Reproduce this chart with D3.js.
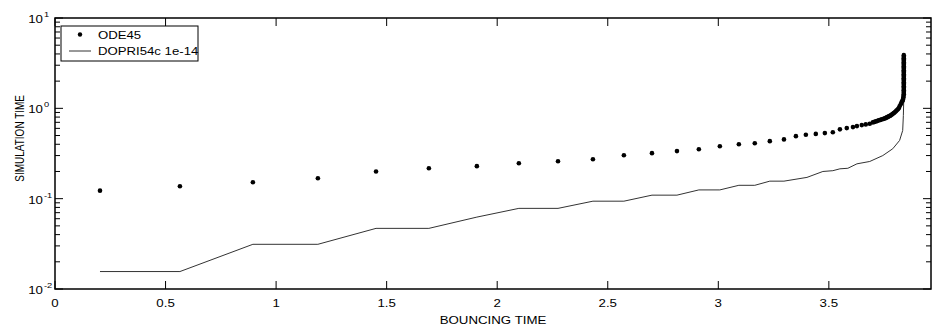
<!DOCTYPE html>
<html>
<head>
<meta charset="utf-8">
<script src="https://cdn.jsdelivr.net/npm/d3@7"></script>
<style>
  body { margin: 0; background: #fff; }
  text { font-family: Arial, "Liberation Sans", sans-serif; fill: #000; }
</style>
</head>
<body>
<svg id="chart" width="932" height="327"></svg>
<script>
// ODE45 results: bouncing time vs simulation time
const odeBounce = [0.2035, 0.565, 0.895, 1.189, 1.452, 1.691, 1.908, 2.098, 2.275, 2.433,
    2.573, 2.700, 2.813, 2.912, 3.007, 3.093, 3.165, 3.233, 3.297, 3.351,
    3.396, 3.441, 3.482, 3.518, 3.550, 3.581, 3.609, 3.627, 3.649, 3.667,
    3.685, 3.699, 3.706, 3.713, 3.720, 3.726, 3.733, 3.740, 3.747, 3.753,
    3.758, 3.762, 3.767, 3.771, 3.776, 3.780, 3.785, 3.789, 3.794, 3.798,
    3.803, 3.807, 3.812, 3.816, 3.820, 3.825, 3.829, 3.832, 3.834, 3.836,
    3.837, 3.838, 3.839, 3.839, 3.839, 3.839, 3.839, 3.839, 3.839, 3.839,
    3.839, 3.839, 3.839, 3.839, 3.839, 3.839, 3.839, 3.839, 3.839, 3.839,
    3.839, 3.839, 3.839, 3.839, 3.839, 3.839, 3.839, 3.839, 3.839, 3.839];
const odeSim = [0.1227, 0.137, 0.152, 0.168, 0.200, 0.217, 0.229, 0.247, 0.260, 0.273,
    0.303, 0.319, 0.336, 0.353, 0.381, 0.401, 0.411, 0.433, 0.453, 0.492,
    0.510, 0.521, 0.532, 0.544, 0.585, 0.604, 0.620, 0.636, 0.652, 0.664,
    0.676, 0.699, 0.708, 0.717, 0.727, 0.736, 0.745, 0.755, 0.764, 0.774,
    0.784, 0.794, 0.804, 0.815, 0.825, 0.836, 0.852, 0.869, 0.886, 0.903,
    0.926, 0.950, 0.975, 1.000, 1.052, 1.108, 1.166, 1.200, 1.227, 1.270,
    1.325, 1.380, 1.431, 1.480, 1.530, 1.585, 1.640, 1.700, 1.756, 1.820,
    1.880, 1.945, 2.020, 2.090, 2.154, 2.230, 2.310, 2.387, 2.470, 2.560,
    2.644, 2.740, 2.830, 2.929, 3.030, 3.140, 3.245, 3.360, 3.480, 3.594,
    3.720, 3.880];
odeBounce.push(3.839, 3.839);

// DOPRI54c 1e-14 results
const dopBounce = [0.2035, 0.565, 0.895, 1.189, 1.452, 1.691, 1.908, 2.098, 2.275, 2.433,
    2.573, 2.700, 2.813, 2.912, 3.007, 3.093, 3.165, 3.233, 3.297, 3.401,
    3.473, 3.518, 3.550, 3.586, 3.627, 3.685, 3.744, 3.789, 3.820, 3.834,
    3.837, 3.839];
const dopSim = [0.0156, 0.0156, 0.03125, 0.03125, 0.0469, 0.0469, 0.0625, 0.0781, 0.0781, 0.0938,
    0.0938, 0.1094, 0.1094, 0.125, 0.125, 0.1406, 0.1406, 0.1563, 0.1563, 0.172,
    0.200, 0.204, 0.214, 0.217, 0.243, 0.258, 0.300, 0.357, 0.441, 0.569,
    0.836, 1.325];

const xTicks = [0, 0.5, 1, 1.5, 2, 2.5, 3, 3.5];
const xTickLabels = ['0', '0.5', '1', '1.5', '2', '2.5', '3', '3.5'];
const yTicks = [0.01, 0.1, 1, 10];
const yExponents = ['-2', '-1', '0', '1'];
const legendNames = ['ODE45', 'DOPRI54c 1e-14'];

const svg = d3.select('#chart');
const margin = { top: 18, right: 1, bottom: 38, left: 55 };
const width = +svg.attr('width') - margin.left - margin.right;
const height = +svg.attr('height') - margin.top - margin.bottom;
const sx = 1.33; // text is stretched horizontally in the original

svg.append('rect').attr('width', 932).attr('height', 327).attr('fill', '#fff');
const g = svg.append('g').attr('transform', `translate(${margin.left},${margin.top})`);

const x = d3.scaleLinear().domain([0, 3.962]).range([0, width]);
const y = d3.scaleLog().domain([0.01, 10]).range([height, 0]);

// minor ticks for log axis
const minor = [];
[0.01, 0.1, 1].forEach(d => { for (let k = 2; k <= 9; k++) minor.push(d * k); });

// ticks (inward) on all four sides
const tickG = g.append('g').attr('stroke', '#000').attr('stroke-width', 1);
xTicks.forEach(t => {
    tickG.append('line').attr('x1', x(t)).attr('x2', x(t)).attr('y1', height).attr('y2', height - 8);
    tickG.append('line').attr('x1', x(t)).attr('x2', x(t)).attr('y1', 0).attr('y2', 8);
});
yTicks.concat(minor).forEach(t => {
    const len = yTicks.includes(t) ? 8 : 5;
    tickG.append('line').attr('x1', 0).attr('x2', len).attr('y1', y(t)).attr('y2', y(t));
    tickG.append('line').attr('x1', width).attr('x2', width - len).attr('y1', y(t)).attr('y2', y(t));
});

// data: DOPRI line
const line = d3.line()
    .x((d, i) => x(dopBounce[i]))
    .y(d => y(d));
g.append('path')
    .datum(dopSim)
    .attr('fill', 'none')
    .attr('stroke', '#333')
    .attr('stroke-width', 1)
    .attr('d', line);

// data: ODE45 dots
g.append('g').selectAll('circle')
    .data(odeSim)
    .join('circle')
    .attr('cx', (d, i) => x(odeBounce[i]))
    .attr('cy', d => y(d))
    .attr('r', 2.3)
    .attr('fill', '#000');

// axes box
g.append('rect')
    .attr('width', width).attr('height', height)
    .attr('fill', 'none').attr('stroke', '#000').attr('stroke-width', 1.5);

// x tick labels
xTicks.forEach((t, i) => {
    g.append('text')
        .attr('transform', `translate(${x(t)},${height + 18}) scale(${sx},1)`)
        .attr('text-anchor', 'middle')
        .attr('font-size', 10)
        .text(xTickLabels[i]);
});

// y tick labels 10^k
yTicks.forEach((t, i) => {
    g.append('text')
        .attr('transform', `translate(-12,${y(t) + 5}) scale(${sx},1)`)
        .attr('text-anchor', 'end')
        .attr('font-size', 10)
        .text('10');
    g.append('text')
        .attr('transform', `translate(-11,${y(t) - 1}) scale(${sx},1)`)
        .attr('font-size', 7)
        .text(yExponents[i]);
});

// axis titles
g.append('text')
    .attr('transform', `translate(${width / 2},${height + 35}) scale(${sx},1)`)
    .attr('text-anchor', 'middle')
    .attr('font-size', 10)
    .text('BOUNCING TIME');
g.append('text')
    .attr('transform', `translate(-31,${y(1) + 30}) scale(${sx},1) rotate(-90)`)
    .attr('text-anchor', 'middle')
    .attr('font-size', 10)
    .text('SIMULATION TIME');

// legend
const lg = svg.append('g').attr('transform', 'translate(61,26)');
lg.append('rect').attr('width', 137).attr('height', 35)
    .attr('fill', '#fff').attr('stroke', '#000').attr('stroke-width', 1);
lg.append('circle').attr('cx', 19).attr('cy', 8.5).attr('r', 2.2).attr('fill', '#000');
lg.append('line').attr('x1', 8).attr('x2', 30).attr('y1', 25).attr('y2', 25)
    .attr('stroke', '#333').attr('stroke-width', 1);
legendNames.forEach((n, i) => {
    lg.append('text')
        .attr('transform', `translate(37,${13 + i * 15.5}) scale(1.2,1)`)
        .attr('font-size', 11)
        .text(n);
});
</script>
</body>
</html>
